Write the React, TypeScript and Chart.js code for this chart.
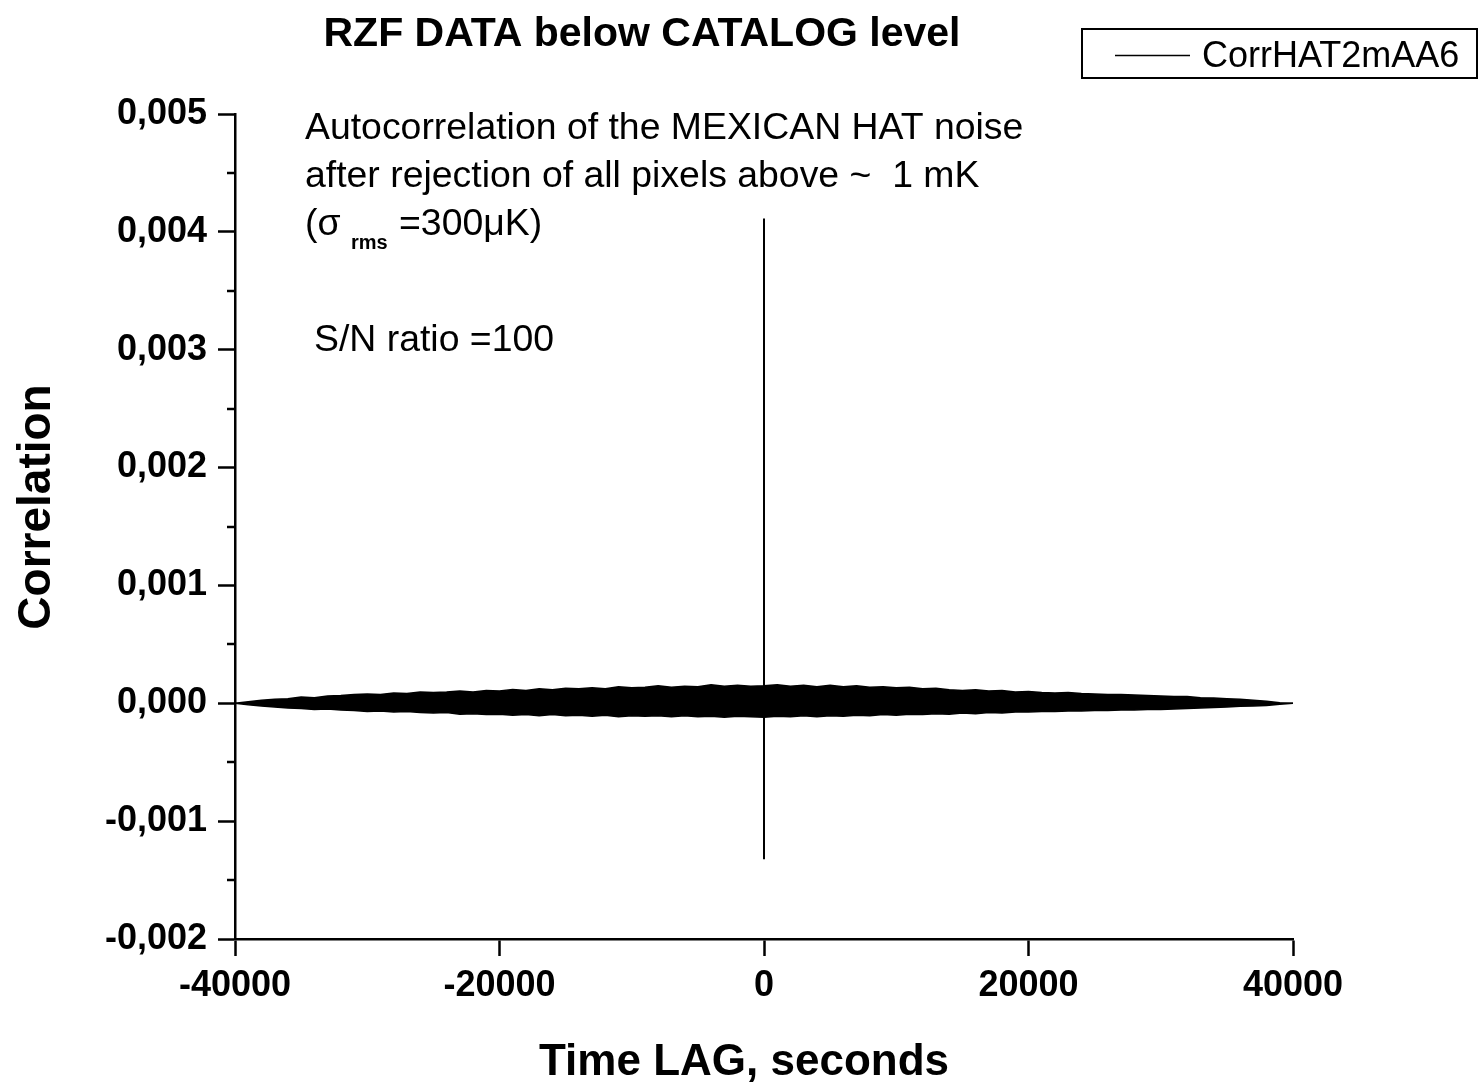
import React, { useEffect, useRef } from 'react';
import { Chart, registerables } from 'chart.js';

Chart.register(...registerables);

// Time lag grid (seconds)
const LAGS = [
  -40000, -39000, -38000, -37000, -36000, -35000, -34000, -33000, -32000, -31000,
  -30000, -29000, -28000, -27000, -26000, -25000, -24000, -23000, -22000, -21000,
  -20000, -19000, -18000, -17000, -16000, -15000, -14000, -13000, -12000, -11000,
  -10000, -9000, -8000, -7000, -6000, -5000, -4000, -3000, -2000, -1000,
  0, 1000, 2000, 3000, 4000, 5000, 6000, 7000, 8000, 9000,
  10000, 11000, 12000, 13000, 14000, 15000, 16000, 17000, 18000, 19000,
  20000, 21000, 22000, 23000, 24000, 25000, 26000, 27000, 28000, 29000,
  30000, 31000, 32000, 33000, 34000, 35000, 36000, 37000, 38000, 39000,
  40000,
];

// Upper envelope of the noise band (units of 1e-5)
const UPPER_E5 = [
  0, 1.3, 2.6, 3.5, 3.9, 5.3, 4.8, 6.1, 6.6, 7.4,
  7.9, 7.4, 8.8, 8.3, 9.6, 9.2, 9.6, 10.5, 9.6, 10.9,
  10.5, 11.8, 10.9, 12.3, 11.4, 12.7, 12.3, 13.1, 12.3, 14.0,
  13.1, 13.6, 14.9, 13.6, 14.4, 14.0, 15.8, 14.4, 15.3, 14.4,
  14.9, 15.8, 14.4, 15.3, 14.0, 15.3, 14.0, 14.9, 13.6, 14.0,
  13.1, 13.6, 12.3, 12.7, 11.4, 10.9, 11.4, 10.5, 10.9, 9.6,
  10.1, 9.2, 8.8, 9.2, 8.3, 7.9, 7.4, 7.4, 7.0, 6.6,
  6.1, 5.7, 5.7, 4.8, 4.4, 3.9, 3.5, 2.6, 1.8, 0.4,
  0,
];

// Lower envelope of the noise band (magnitude, units of 1e-5)
const LOWER_E5 = [
  0, 1.3, 2.2, 3.1, 3.9, 4.4, 5.3, 4.8, 5.7, 6.1,
  7.0, 6.6, 7.4, 7.0, 7.9, 8.3, 7.9, 9.2, 8.8, 9.6,
  9.2, 10.1, 9.6, 10.5, 9.6, 10.5, 10.1, 10.9, 10.1, 11.4,
  10.5, 10.9, 10.5, 11.4, 10.5, 11.4, 10.9, 11.8, 10.9, 11.4,
  11.8, 10.9, 11.4, 10.5, 11.4, 10.5, 10.9, 10.1, 10.5, 9.6,
  10.1, 9.2, 9.6, 8.8, 9.2, 8.3, 8.8, 7.9, 8.3, 7.4,
  7.4, 7.0, 7.0, 6.6, 6.6, 6.1, 6.1, 5.7, 5.7, 5.3,
  5.3, 4.8, 4.4, 3.9, 3.5, 3.1, 2.6, 2.2, 1.8, 0.9,
  0,
];

// Zero-lag spike
const SPIKE_LAGS = [0, 0];
const SPIKE_VALUES = [0.004114, -0.001323];

const X_TICKS = [-40000, -20000, 0, 20000, 40000];
const Y_TICKS = [-0.002, -0.001, 0, 0.001, 0.002, 0.003, 0.004, 0.005];
const Y_MINOR = [-0.0015, -0.0005, 0.0005, 0.0015, 0.0025, 0.0035, 0.0045];

const TITLE = 'RZF DATA below CATALOG level';
const X_TITLE = 'Time LAG, seconds';
const Y_TITLE = 'Correlation';
const LEGEND_LABEL = 'CorrHAT2mAA6';
const NOTE_LINES = [
  'Autocorrelation of the MEXICAN HAT noise',
  'after rejection of all pixels above ~  1 mK',
];
const SIGMA_PRE = '(\u03C3';
const SIGMA_SUB = 'rms';
const SIGMA_POST = '=300\u03BCK)';
const SN_TEXT = 'S/N ratio =100';

const FONT = '"Liberation Sans", Arial, sans-serif';

const decorPlugin = {
  id: 'decor',
  afterDraw(chart: any) {
    const ctx = chart.ctx as CanvasRenderingContext2D;
    const area = chart.chartArea;
    const ys = chart.scales.y;
    ctx.save();
    ctx.strokeStyle = '#000';
    ctx.fillStyle = '#000';
    // minor ticks
    ctx.lineWidth = 2.5;
    Y_MINOR.forEach((v) => {
      const py = Math.round(ys.getPixelForValue(v));
      ctx.beginPath();
      ctx.moveTo(area.left - 8, py);
      ctx.lineTo(area.left, py);
      ctx.stroke();
    });
    // title
    ctx.textBaseline = 'alphabetic';
    ctx.textAlign = 'center';
    ctx.font = `bold 41px ${FONT}`;
    ctx.fillText(TITLE, 642, 46);
    // x title
    ctx.font = `bold 44px ${FONT}`;
    ctx.fillText(X_TITLE, 744, 1075);
    // y title
    ctx.save();
    ctx.translate(50, 507);
    ctx.rotate(-Math.PI / 2);
    ctx.font = `bold 46px ${FONT}`;
    ctx.fillText(Y_TITLE, 0, 0);
    ctx.restore();
    // notes
    ctx.textAlign = 'left';
    ctx.font = `37.4px ${FONT}`;
    ctx.fillText(NOTE_LINES[0], 305, 139);
    ctx.fillText(NOTE_LINES[1], 305, 187);
    ctx.fillText(SIGMA_PRE, 305, 235);
    ctx.fillText(SIGMA_POST, 399, 235);
    ctx.fillText(SN_TEXT, 314, 351);
    ctx.font = `bold 20px ${FONT}`;
    ctx.fillText(SIGMA_SUB, 351, 249);
    // legend
    ctx.lineWidth = 2;
    ctx.strokeRect(1082, 29, 395, 49);
    ctx.lineWidth = 1.5;
    ctx.beginPath();
    ctx.moveTo(1115, 55.5);
    ctx.lineTo(1190, 55.5);
    ctx.stroke();
    ctx.font = `36px ${FONT}`;
    ctx.fillText(LEGEND_LABEL, 1202, 67);
    ctx.restore();
  },
};

export default function App() {
  const ref = useRef<HTMLCanvasElement | null>(null);

  useEffect(() => {
    const canvas = ref.current;
    if (!canvas) return;
    const upper = LAGS.map((x, i) => ({ x, y: UPPER_E5[i] * 1e-5 }));
    const lower = LAGS.map((x, i) => ({ x, y: -LOWER_E5[i] * 1e-5 }));
    const spike = SPIKE_LAGS.map((x, i) => ({ x, y: SPIKE_VALUES[i] }));

    const chart = new Chart(canvas, {
      type: 'line',
      data: {
        datasets: [
          {
            label: 'upper',
            data: upper,
            borderColor: '#000',
            backgroundColor: '#000',
            borderWidth: 1.5,
            pointRadius: 0,
            fill: '+1',
            tension: 0,
          },
          {
            label: 'lower',
            data: lower,
            borderColor: '#000',
            backgroundColor: '#000',
            borderWidth: 1.5,
            pointRadius: 0,
            fill: false,
            tension: 0,
          },
          {
            label: LEGEND_LABEL,
            data: spike,
            borderColor: '#000',
            borderWidth: 2,
            pointRadius: 0,
            fill: false,
          },
        ],
      },
      options: {
        animation: false,
        responsive: false,
        layout: { padding: { left: 0, top: 114, right: 186, bottom: 0 } },
        plugins: {
          legend: { display: false },
          title: { display: false },
          tooltip: { enabled: false },
        },
        scales: {
          x: {
            type: 'linear',
            min: X_TICKS[0],
            max: X_TICKS[X_TICKS.length - 1],
            afterFit: (s: any) => {
              s.height = 145;
            },
            afterBuildTicks: (s: any) => {
              s.ticks = X_TICKS.map((v) => ({ value: v }));
            },
            ticks: {
              color: '#000',
              padding: 8,
              maxRotation: 0,
              font: { family: FONT, size: 36, weight: 'bold' },
              callback: (v: any) => String(v),
            },
            grid: {
              display: true,
              drawOnChartArea: false,
              drawTicks: true,
              tickLength: 17,
              tickWidth: 2.5,
              tickColor: '#000',
              color: '#000',
            },
            border: { display: true, color: '#000', width: 2.5 },
          },
          y: {
            type: 'linear',
            min: Y_TICKS[0],
            max: Y_TICKS[Y_TICKS.length - 1],
            afterFit: (s: any) => {
              s.width = 235;
            },
            afterBuildTicks: (s: any) => {
              s.ticks = Y_TICKS.map((v) => ({ value: v }));
            },
            ticks: {
              color: '#000',
              padding: 11,
              font: { family: FONT, size: 36, weight: 'bold' },
              callback: (v: any) => Number(v).toFixed(3).replace('.', ','),
            },
            grid: {
              display: true,
              drawOnChartArea: false,
              drawTicks: true,
              tickLength: 17,
              tickWidth: 2.5,
              tickColor: '#000',
              color: '#000',
            },
            border: { display: true, color: '#000', width: 2.5 },
          },
        },
      },
      plugins: [decorPlugin],
    });
    return () => chart.destroy();
  }, []);

  return (
    <div style={{ position: 'fixed', left: 0, top: 0, width: 1479, height: 1084, background: '#fff' }}>
      <canvas ref={ref} width={1479} height={1084} style={{ display: 'block' }} />
    </div>
  );
}
